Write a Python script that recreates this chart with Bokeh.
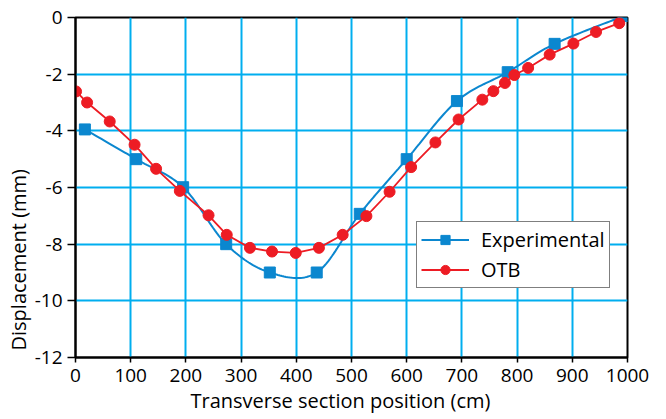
import numpy as np
from bokeh.plotting import figure
from bokeh.models import Range1d, FixedTicker, Title, Legend
from bokeh.embed import file_html
from bokeh.resources import INLINE

# ---- data ----
exp_x = [17, 110, 195, 273, 352, 437, 515, 600, 691, 783, 868, 993]
exp_y = [-3.95, -5.0, -5.99, -8.0, -9.0, -9.0, -6.93, -5.0, -2.95, -1.93, -0.93, 0.05]

otb_x = [1, 21, 62, 107, 146, 189, 241, 274, 316, 356, 399, 441, 484, 527, 569,
         608, 652, 694, 737, 757, 778, 795, 820, 859, 902, 943, 985]
otb_y = [-2.61, -3.0, -3.67, -4.49, -5.34, -6.12, -6.98, -7.67, -8.13, -8.26, -8.31,
         -8.13, -7.67, -7.01, -6.15, -5.28, -4.41, -3.6, -2.9, -2.6, -2.31, -2.03,
         -1.78, -1.31, -0.92, -0.51, -0.2]

x_ticks = list(range(0, 1001, 100))
y_ticks = list(range(-12, 1, 2))
y_tick_labels = {t: str(t) for t in y_ticks}   # plain hyphen-minus as in the reference

FONT = "Open Sans"
BLUE = "#0b87cf"
RED = "#ed1c24"
GRID = "#00aeef"


def smooth(xs, ys, n=24):
    """Bezier smoothing (as a spreadsheet 'smoothed line') through the points."""
    P = np.column_stack([np.asarray(xs, float) / 100.0, np.asarray(ys, float) / 2.0])
    ext = np.vstack([P[0], P, P[-1]])
    out = []
    t = np.linspace(0, 1, n)[:, None]
    for i in range(len(P) - 1):
        p0, p1, p2, p3 = ext[i], ext[i + 1], ext[i + 2], ext[i + 3]
        c1 = p1 + (p2 - p0) / 6.0
        c2 = p2 - (p3 - p1) / 6.0
        seg = (1 - t) ** 3 * p1 + 3 * (1 - t) ** 2 * t * c1 + 3 * (1 - t) * t ** 2 * c2 + t ** 3 * p2
        out.append(seg if i == 0 else seg[1:])
    S = np.vstack(out)
    return S[:, 0] * 100.0, S[:, 1] * 2.0


p = figure(width=666, height=419, output_backend="svg", toolbar_location=None,
           x_range=Range1d(0, 1000), y_range=Range1d(-12, 0),
           min_border_left=75, min_border_right=39, min_border_top=17, min_border_bottom=62)

p.background_fill_color = "white"
p.border_fill_color = "white"
p.outline_line_color = "black"
p.outline_line_width = 2

for ax in (p.xaxis[0], p.yaxis[0]):
    ax.axis_line_color = "black"
    ax.axis_line_width = 2
    ax.major_tick_line_color = "black"
    ax.major_tick_line_width = 1.5
    ax.major_tick_in = 0
    ax.minor_tick_line_color = None
    ax.major_label_text_font = FONT
    ax.major_label_text_font_size = "19px"
    ax.major_label_text_color = "black"

p.xaxis.ticker = FixedTicker(ticks=x_ticks)
p.yaxis.ticker = FixedTicker(ticks=y_ticks)
p.yaxis.major_label_overrides = y_tick_labels
p.xaxis.major_tick_out = 5
p.yaxis.major_tick_out = 8
p.xaxis.major_label_standoff = 6
p.yaxis.major_label_standoff = 5

p.xgrid.ticker = FixedTicker(ticks=x_ticks)
p.ygrid.ticker = FixedTicker(ticks=y_ticks)
p.grid.grid_line_color = GRID
p.grid.grid_line_width = 2

ex_sx, ex_sy = smooth(exp_x, exp_y)
r1 = p.line(ex_sx, ex_sy, line_color=BLUE, line_width=2)
r2 = p.scatter(exp_x, exp_y, marker="square", size=11, fill_color=BLUE, line_color=BLUE)
r3 = p.line(otb_x, otb_y, line_color=RED, line_width=1.8)
r4 = p.scatter(otb_x, otb_y, marker="circle", size=11, fill_color=RED, line_color=RED)

legend = Legend(items=[("Experimental", [r1, r2]), ("OTB", [r3, r4])],
                location=(341, 69))
legend.border_line_color = "black"
legend.border_line_width = 1.5
legend.background_fill_color = "white"
legend.background_fill_alpha = 1
legend.label_text_font = FONT
legend.label_text_font_size = "20px"
legend.label_text_color = "black"
legend.glyph_width = 48
legend.glyph_height = 23
legend.label_height = 23
legend.label_standoff = 12
legend.padding = 4
legend.spacing = 3
legend.margin = 0
p.add_layout(legend, "center")

xtitle = Title(text="Transverse section position (cm)", align="left", offset=115,
               text_font=FONT, text_font_size="20px", text_font_style="normal",
               text_color="black", standoff=0)
ytitle = Title(text="Displacement (mm)", align="left", offset=7,
               text_font=FONT, text_font_size="20px", text_font_style="normal",
               text_color="black", standoff=0)
p.add_layout(xtitle, "below")
p.add_layout(ytitle, "left")

open("out.html", "w").write(file_html(p, INLINE))
